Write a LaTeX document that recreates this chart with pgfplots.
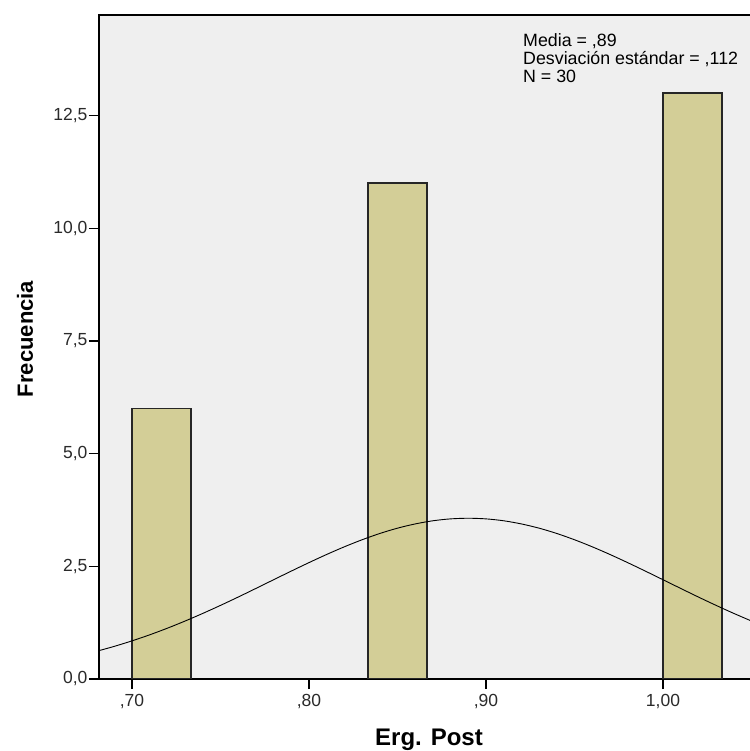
\documentclass[border=0pt]{standalone}
\usepackage{pgfplots}
\pgfplotsset{compat=1.18}
\usepackage{fontspec}
\setmainfont{Liberation Sans}
\definecolor{bgc}{HTML}{EFEFEF}
\definecolor{barc}{HTML}{D3CE97}
\definecolor{tickc}{HTML}{2A2A2A}
\begin{document}
\begin{tikzpicture}
\useasboundingbox (-99pt,-72pt) rectangle (650pt,679pt);
\fill[white] (-99pt,-72pt) rectangle (650pt,679pt);
\begin{axis}[
  scale only axis,
  width=652pt, height=664pt,
  xmin=0.68136, xmax=1.04972,
  ymin=0, ymax=14.73,
  axis background/.style={fill=bgc},
  axis line style={black, line width=1.3pt},
  tick align=outside,
  xtick pos=bottom, ytick pos=left,
  major tick length=10pt,
  tick style={black, line width=1.3pt},
  xtick={0.7,0.8,0.9,1.0},
  xticklabels={{,70},{,80},{,90},{1,00}},
  ytick={0,2.5,5,7.5,10,12.5},
  yticklabels={{0,0},{2,5},{5,0},{7,5},{10,0},{12,5}},
  ticklabel style={font=\fontsize{17.5}{19}\selectfont, text=tickc},
  xticklabel style={yshift=-2pt},
  yticklabel style={xshift=2pt},
  clip=true,
]
\addplot[ybar interval, fill=barc, draw=black!85, line width=1.3pt] coordinates {(0.7,6) (0.733333,6)};
\addplot[ybar interval, fill=barc, draw=black!85, line width=1.3pt] coordinates {(0.833333,11) (0.866667,11)};
\addplot[ybar interval, fill=barc, draw=black!85, line width=1.3pt] coordinates {(1.0,13) (1.033333,13)};
\addplot[black, line width=0.9pt, smooth, no marks] coordinates {
(0.68,0.615) (0.69,0.724) (0.70,0.846) (0.71,0.980) (0.72,1.127) (0.73,1.286)
(0.74,1.455) (0.75,1.633) (0.76,1.818) (0.77,2.009) (0.78,2.202) (0.79,2.394)
(0.80,2.582) (0.81,2.763) (0.82,2.933) (0.83,3.089) (0.84,3.228) (0.85,3.346)
(0.86,3.440) (0.87,3.510) (0.88,3.552) (0.89,3.566) (0.90,3.552) (0.91,3.510)
(0.92,3.440) (0.93,3.346) (0.94,3.228) (0.95,3.089) (0.96,2.933) (0.97,2.763)
(0.98,2.582) (0.99,2.394) (1.00,2.202) (1.01,2.009) (1.02,1.818) (1.03,1.633)
(1.04,1.455) (1.05,1.286)};
\end{axis}
\node[anchor=base west, align=left, font=\fontsize{17.8}{18}\selectfont, inner sep=0pt] at (424pt,596pt) {Media = ,89\\Desviación estándar = ,112\\N = 30};
\node[anchor=base, font=\fontsize{24}{26}\selectfont\bfseries, inner sep=0pt] at (330pt,-66pt) {Erg. Post};
\node[anchor=base, rotate=90, font=\fontsize{22}{24}\selectfont\bfseries, inner sep=0pt] at (-66pt,340pt) {Frecuencia};
\end{tikzpicture}
\end{document}
